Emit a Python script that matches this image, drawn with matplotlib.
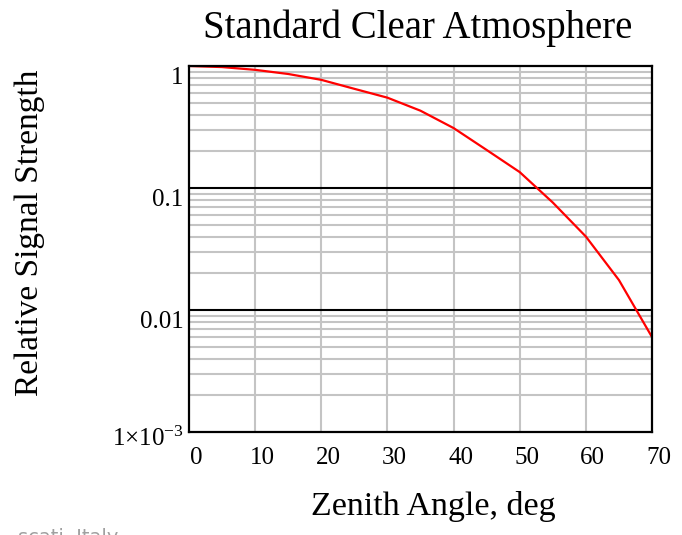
import numpy as np
import matplotlib
matplotlib.use('Agg')
import matplotlib.pyplot as plt
from matplotlib.transforms import ScaledTranslation

plt.rcParams['font.family'] = ['Liberation Serif', 'DejaVu Serif']
plt.rcParams['mathtext.fontset'] = 'custom'
plt.rcParams['mathtext.rm'] = 'Liberation Serif'
plt.rcParams['mathtext.it'] = 'Liberation Serif:italic'

# values
zenith_deg = [0, 5, 10, 15, 20, 25, 30, 35, 40, 45, 50, 55, 60, 65, 70]
signal = [1.0, 0.98, 0.93, 0.86, 0.77, 0.65, 0.55, 0.43, 0.31, 0.205,
          0.135, 0.076, 0.040, 0.0176, 0.006]
x_ticks = [0, 10, 20, 30, 40, 50, 60, 70]
y_ticks = [1e-3, 1e-2, 1e-1, 1]
y_tick_labels = [r'1$\times$10$^{-3}$', '0.01', '0.1', '1']

W, H = 682, 535
fig = plt.figure(figsize=(W / 100, H / 100), dpi=100)
ax = fig.add_axes([189 / W, 1 - 432 / H, 463 / W, 366 / H])

ax.set_yscale('log')
ax.set_xlim(0, 70)
ax.set_ylim(1e-3, 1)

# grid: grey minor/vertical lines, black decade lines
for dec in [1e-3, 1e-2, 1e-1]:
    for m in range(2, 10):
        ax.axhline(dec * m, color='#c4c4c4', lw=1.5, zorder=1)
for xv in x_ticks[1:-1]:
    ax.axvline(xv, color='#c4c4c4', lw=1.5, zorder=1)
for dec in [1e-2, 1e-1]:
    ax.axhline(dec, color='black', lw=1.5, zorder=2)

ax.plot(zenith_deg, signal, color='red', lw=1.6, zorder=3)

for s in ax.spines.values():
    s.set_linewidth(1.6)
    s.set_zorder(4)

ax.set_xticks(x_ticks)
ax.set_xticklabels([str(v) for v in x_ticks])
ax.set_yticks(y_ticks)
ax.set_yticklabels(y_tick_labels)
ax.minorticks_off()
ax.tick_params(axis='both', length=0, labelsize=18)
ax.tick_params(axis='x', pad=11)
ax.tick_params(axis='y', pad=4)
for lab in ax.get_xticklabels():
    lab.set_transform(lab.get_transform() + ScaledTranslation(7 / 100, 0, fig.dpi_scale_trans))
for i, lab in enumerate(ax.get_yticklabels()):
    dy = 4 if i == 0 else 9
    lab.set_transform(lab.get_transform() + ScaledTranslation(0, -dy / 100, fig.dpi_scale_trans))

fig.text(418 / W, 1 - 38 / H, 'Standard Clear Atmosphere', ha='center', va='baseline', fontsize=28)
fig.text(433 / W, 1 - 515 / H, 'Zenith Angle, deg', ha='center', va='baseline', fontsize=24.5)
fig.text(30 / W, 1 - 233 / H, 'Relative Signal Strength', ha='center', va='center',
         rotation=90, fontsize=24)
fig.text(118 / W, 1 - 528 / H, 'scati, Italy', ha='right', va='top', fontsize=14,
         color='#a0a0a0', family='DejaVu Sans')

fig.savefig('out.png', dpi=100)
